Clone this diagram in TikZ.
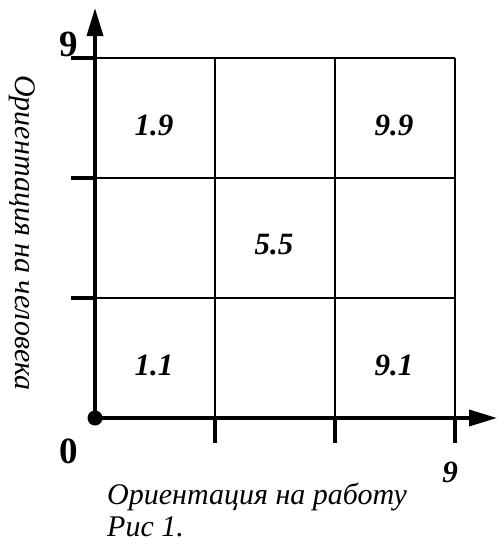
\documentclass[tikz,border=0pt]{standalone}
\usepackage{fontspec}
\setmainfont{Liberation Serif}
\usetikzlibrary{arrows.meta}
\begin{document}
\begin{tikzpicture}[x=1pt,y=-1pt,
  grid/.style={line width=1.6pt},
  axis/.style={line width=3.6pt},
  tick/.style={line width=3.6pt},
  cell/.style={font=\fontsize{31}{34}\selectfont\bfseries\itshape},
  big/.style={font=\fontsize{37}{40}\selectfont\bfseries},
  lbl/.style={font=\fontsize{30}{34}\selectfont\itshape}]
\useasboundingbox (0,0) rectangle (497,544);
% grid
\draw[grid] (95,58) -- (455,58);
\draw[grid] (95,178) -- (455,178);
\draw[grid] (95,298) -- (455,298);
\draw[grid] (215,58) -- (215,418);
\draw[grid] (335,58) -- (335,418);
\draw[grid] (455,58) -- (455,418);
% ticks
\draw[tick] (71,58) -- (95,58);
\draw[tick] (71,178) -- (95,178);
\draw[tick] (71,298) -- (95,298);
\draw[tick] (215,418) -- (215,443);
\draw[tick] (335,418) -- (335,443);
\draw[tick] (455,418) -- (455,443);
% axes
\coordinate (o) at (95,418);
\coordinate (ytip) at (95,8);
\coordinate (xtip) at (497,418);
\draw[axis,-{Triangle[length=28pt,width=16pt]}] (o) -- (ytip);
\draw[axis,-{Triangle[length=28pt,width=16pt]}] (o) -- (xtip);
\fill (o) circle (7.5pt);
% labels
\node[big] (n9) at (69,44) {9};
\node[big] (n0) at (69,451) {0};
\node[cell] (x9) at (450,472) {9};
\node[cell] (c19) at (154,125) {1.9};
\node[cell] (c99) at (394,125) {9.9};
\node[cell] (c55) at (274,245) {5.5};
\node[cell] (c11) at (154,365) {1.1};
\node[cell] (c91) at (394,365) {9.1};
\node[lbl,rotate=-90] (yl) at (22,233) {Ориентация на человека};
\node[lbl,anchor=base west,inner sep=1pt] (xl) at (106,504) {Ориентация на работу};
\node[lbl,anchor=base west,inner sep=1pt] (fig) at (106,536) {Рис 1.};
\end{tikzpicture}
\end{document}
